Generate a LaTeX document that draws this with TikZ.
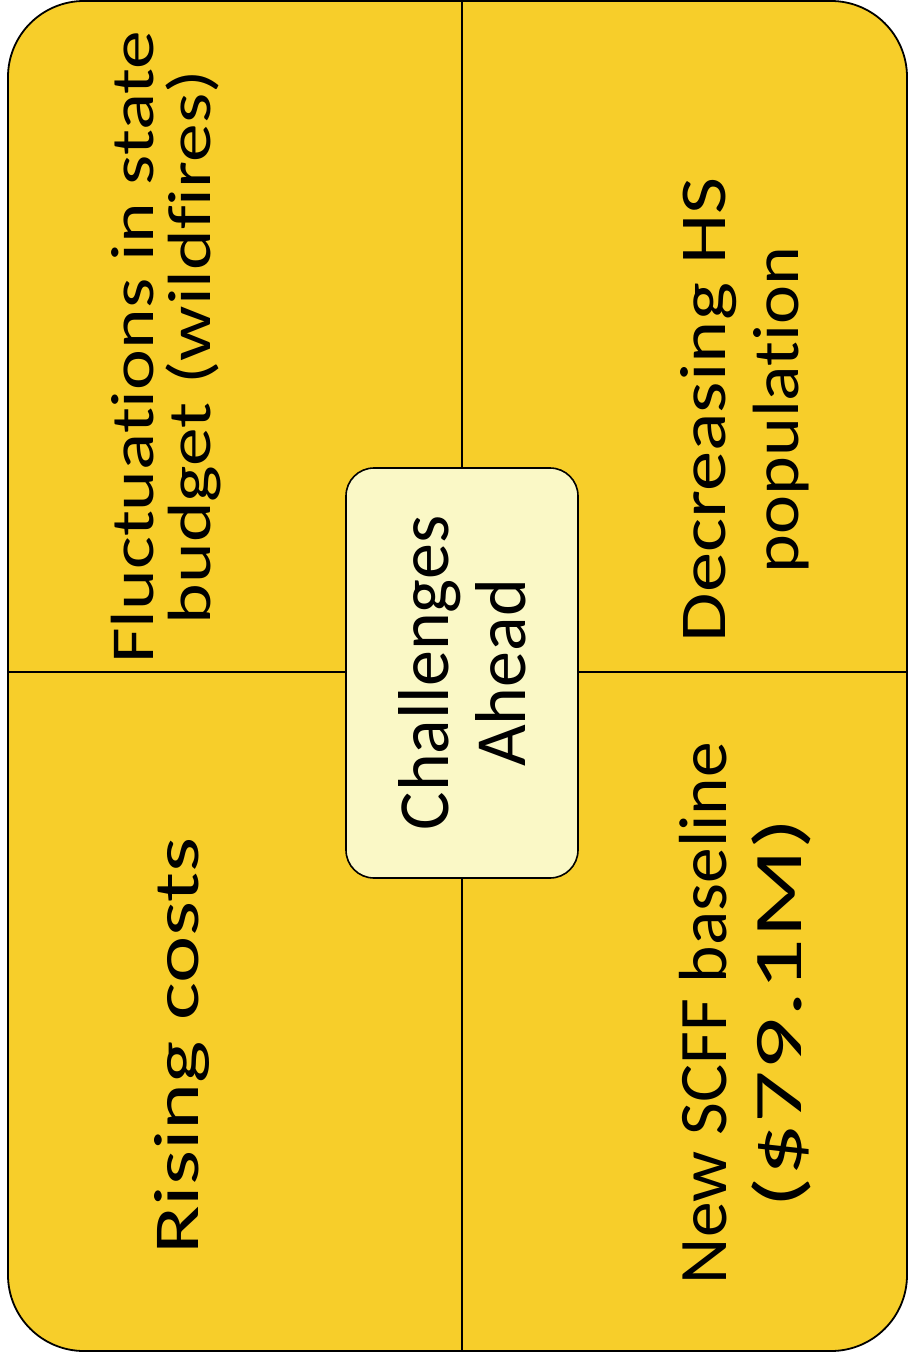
\documentclass[tikz,border=0pt]{standalone}
\usepackage{fontspec}
\setmainfont{Carlito}[Ligatures={NoCommon,NoContextual}]
\usepackage{graphicx}
\usepackage{tikz}
\usetikzlibrary{positioning,calc}
\definecolor{quadfill}{RGB}{247,206,42}
\definecolor{hubfill}{RGB}{250,248,198}
\tikzset{
  lbl/.style={rotate=90, align=center},
  hub/.style={draw, line width=0.8pt, fill=hubfill, rounded corners=14pt,
    minimum width=205pt, minimum height=116pt}
}

\begin{document}
\begin{tikzpicture}[x=0.5pt, y=-0.5pt]
    \useasboundingbox (0,0) rectangle (911,1358);

    % Outer card with four quadrants
    \draw[line width=0.9pt, fill=quadfill, rounded corners=38pt] (8,1) rectangle (907,1351);
    \draw[line width=0.7pt] (462,1) -- (462,1351);
    \draw[line width=0.7pt] (8,672) -- (907,672);

    % Quadrant texts
    \node[lbl, xscale=1.27, font=\fontsize{30.5}{28.5}\selectfont] (fluct) at (166,347)
        {Fluctuations in state\\budget (wildfires)};
    \node[lbl, xscale=1.23, font=\fontsize{32.7}{36.5}\selectfont] (hs) at (745,410)
        {Decreasing HS\\\scalebox{0.92}[1]{population}};
    \node[lbl, xscale=1.40, font=\fontsize{32}{36}\selectfont] (rising) at (182,1046)
        {Rising costs};
    \node[lbl, xscale=1.05, font=\fontsize{34}{37.5}\selectfont] (scff) at (745,1013)
        {New SCFF baseline\\\scalebox{1.46}[1]{(\$79.1M)}};

    % Centre box
    \node[hub, lbl, font=\fontsize{36}{38.5}\selectfont] (ahead) at (462,673) {Challenges\\Ahead};

\end{tikzpicture}
\end{document}
